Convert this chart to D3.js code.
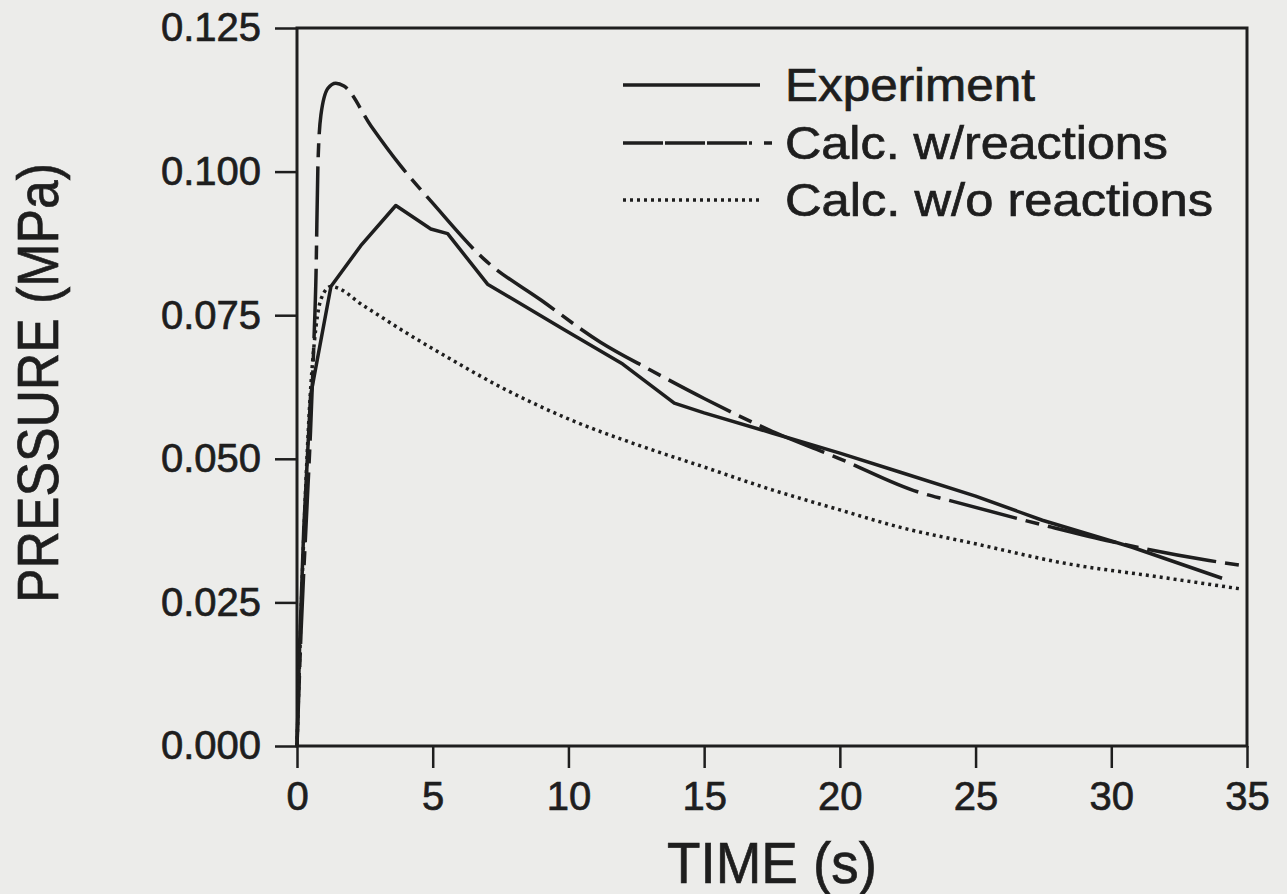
<!DOCTYPE html>
<html>
<head>
<meta charset="utf-8">
<script src="https://cdn.jsdelivr.net/npm/d3@7"></script>
<style>
  html, body { margin: 0; padding: 0; background: #ececea; }
  svg { display: block; }
  text { font-family: "Liberation Sans", Arial, Helvetica, sans-serif; fill: #1e1e1e; stroke: #1e1e1e; stroke-width: 0.7px; }
</style>
</head>
<body>
<svg id="chart" width="1287" height="894"></svg>
<script>
// ---- data ----
const expTime = [0, 0.1, 0.25, 0.5, 1.25, 2.35, 3.64, 4.93, 5.55, 7.02, 9.8, 12.0, 13.9, 15.0, 17.5, 20.0, 22.2, 25.0, 27.46, 30.77, 34.08];
const expPressure = [0, 0.018, 0.038, 0.061, 0.080, 0.0871, 0.0941, 0.090, 0.0892, 0.0804, 0.0726, 0.0665, 0.0597, 0.0580, 0.0545, 0.051, 0.0477, 0.0435, 0.0393, 0.0346, 0.0292];

const withTime = [0, 0.15, 0.35, 0.5, 0.62, 0.70, 0.77, 0.88, 1.14, 1.43, 1.73, 2.72, 3.82, 5.0, 6.88, 9.0, 11.18, 13.0, 15.0, 17.5, 20.0, 22.9, 24.0, 27.8, 30.0, 33.6, 34.7];
const withPressure = [0, 0.02, 0.04, 0.055, 0.07, 0.082, 0.101, 0.1098, 0.1145, 0.1154, 0.1149, 0.108, 0.101, 0.0945, 0.0848, 0.0776, 0.0703, 0.0655, 0.0605, 0.0548, 0.0500, 0.0442, 0.0428, 0.0381, 0.0356, 0.0323, 0.0315];

const withoutTime = [0, 0.2, 0.45, 0.7, 0.9, 1.25, 2.5, 4.0, 5.5, 7.5, 10.07, 12.5, 14.85, 17.5, 20.0, 22.2, 25.0, 28.3, 31.5, 34.7];
const withoutPressure = [0, 0.03, 0.058, 0.073, 0.078, 0.080, 0.0765, 0.072, 0.0678, 0.0625, 0.0568, 0.0525, 0.0488, 0.0446, 0.0411, 0.0381, 0.0352, 0.0318, 0.0296, 0.0274];

const xTicks = [0, 5, 10, 15, 20, 25, 30, 35];
const yTicks = [0, 0.025, 0.050, 0.075, 0.100, 0.125];
const legendLabels = ["Experiment", "Calc. w/reactions", "Calc. w/o reactions"];

// ---- layout ----
const svg = d3.select("#chart");
const ink = "#1e1e1e";
const plotLeft = 297, plotRight = 1247, plotTop = 28, plotBottom = 746;

const x = d3.scaleLinear().domain([0, 35]).range([plotLeft, plotRight]);
const y = d3.scaleLinear().domain([0, 0.125]).range([plotBottom, plotTop]);

// frame
svg.append("rect")
  .attr("x", plotLeft).attr("y", plotTop)
  .attr("width", plotRight - plotLeft).attr("height", plotBottom - plotTop)
  .attr("fill", "none").attr("stroke", ink).attr("stroke-width", 3);

// axes
const xAxis = svg.append("g").attr("transform", `translate(0,${plotBottom})`)
  .call(d3.axisBottom(x).tickValues(xTicks).tickSize(22).tickPadding(14).tickFormat(d3.format("d")));
const yAxis = svg.append("g").attr("transform", `translate(${plotLeft},0)`)
  .call(d3.axisLeft(y).tickValues(yTicks).tickSize(22).tickPadding(14).tickFormat(d3.format(".3f")));
[xAxis, yAxis].forEach(g => {
  g.select(".domain").remove();
  g.selectAll(".tick line").attr("stroke", ink).attr("stroke-width", 2.5);
  g.selectAll(".tick text").attr("font-size", 40).attr("fill", ink)
    .style("font-family", '"Liberation Sans", Arial, sans-serif');
});
xAxis.selectAll(".tick text").attr("dy", "0.71em");

// axis titles
svg.append("text")
  .attr("x", 772).attr("y", 883)
  .attr("text-anchor", "middle")
  .attr("font-size", 58)
  .attr("textLength", 210).attr("lengthAdjust", "spacingAndGlyphs")
  .text("TIME (s)");

svg.append("text")
  .attr("transform", "translate(58,383) rotate(-90)")
  .attr("text-anchor", "middle")
  .attr("font-size", 58)
  .attr("textLength", 440).attr("lengthAdjust", "spacingAndGlyphs")
  .text("PRESSURE (MPa)");

// lines
const styles = [
  { dash: null, width: 3.5 },
  { dash: "70,9,14,9", width: 3.5 },
  { dash: "3,4", width: 3.5 }
];
const series = [
  { t: expTime, p: expPressure, curve: d3.curveLinear },
  { t: withTime, p: withPressure, curve: d3.curveMonotoneX },
  { t: withoutTime, p: withoutPressure, curve: d3.curveMonotoneX }
];

series.forEach((s, i) => {
  const pts = s.t.map((t, j) => [t, s.p[j]]);
  const line = d3.line().x(d => x(d[0])).y(d => y(d[1])).curve(s.curve);
  svg.append("path")
    .attr("d", line(pts))
    .attr("fill", "none")
    .attr("stroke", ink)
    .attr("stroke-width", styles[i].width)
    .attr("stroke-linejoin", "round")
    .attr("stroke-dasharray", styles[i].dash);
});

// legend
const legY = [85, 143, 200];
const legLen = [250, 383, 428];
legendLabels.forEach((lab, i) => {
  const g = svg.append("g");
  if (i === 1) {
    g.append("line").attr("x1", 623).attr("x2", 752).attr("y1", legY[i]).attr("y2", legY[i])
      .attr("stroke", ink).attr("stroke-width", 3.5).attr("stroke-dasharray", "40,2");
    g.append("line").attr("x1", 764).attr("x2", 772).attr("y1", legY[i]).attr("y2", legY[i])
      .attr("stroke", ink).attr("stroke-width", 3.5);
  } else {
    g.append("line").attr("x1", 623).attr("x2", 760).attr("y1", legY[i]).attr("y2", legY[i])
      .attr("stroke", ink).attr("stroke-width", 3.5)
      .attr("stroke-dasharray", styles[i].dash);
  }
  g.append("text")
    .attr("x", 785).attr("y", legY[i] + 16)
    .attr("font-size", 46)
    .attr("textLength", legLen[i]).attr("lengthAdjust", "spacingAndGlyphs")
    .text(lab);
});
</script>
</body>
</html>
